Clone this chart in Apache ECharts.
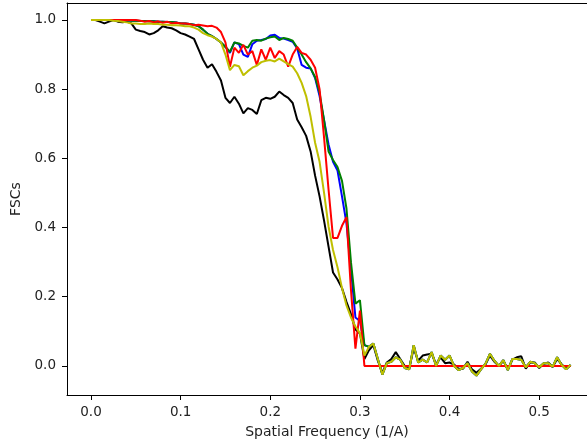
<!DOCTYPE html>
<html>
<head>
<meta charset="utf-8">
<title>FSC</title>
<script src="https://cdn.jsdelivr.net/npm/echarts@6/dist/echarts.min.js"></script>
<style>
	html, body { margin: 0; padding: 0; background: #fff; }
	#main { width: 587px; height: 446px; }
</style>
</head>
<body>
<div id="main"></div>
<script>
	// spatial frequency (1/A)
	var freq = [
		0.000, 0.005, 0.010, 0.015, 0.020, 0.025, 0.030, 0.035, 0.040, 0.045,
		0.050, 0.055, 0.060, 0.065, 0.070, 0.075, 0.080, 0.085, 0.090, 0.095,
		0.100, 0.105, 0.110, 0.115, 0.120, 0.125, 0.130, 0.135, 0.140, 0.145,
		0.150, 0.155, 0.160, 0.165, 0.170, 0.175, 0.180, 0.185, 0.190, 0.195,
		0.200, 0.205, 0.210, 0.215, 0.220, 0.225, 0.230, 0.235, 0.240, 0.245,
		0.250, 0.255, 0.260, 0.265, 0.270, 0.275, 0.280, 0.285, 0.290, 0.295,
		0.300, 0.305, 0.310, 0.315, 0.320, 0.325, 0.330, 0.335, 0.340, 0.345,
		0.350, 0.355, 0.360, 0.365, 0.370, 0.375, 0.380, 0.385, 0.390, 0.395,
		0.400, 0.405, 0.410, 0.415, 0.420, 0.425, 0.430, 0.435, 0.440, 0.445,
		0.450, 0.455, 0.460, 0.465, 0.470, 0.475, 0.480, 0.485, 0.490, 0.495,
		0.500, 0.505, 0.510, 0.515, 0.520, 0.525, 0.530, 0.535
	];

	var fscBlack = [
		1.0, 1.0, 0.995, 0.99, 0.995, 1.0, 0.995, 0.993, 0.995, 0.99,
		0.972, 0.968, 0.965, 0.958, 0.962, 0.97, 0.982, 0.978, 0.976, 0.97,
		0.962, 0.958, 0.952, 0.945, 0.915, 0.885, 0.862, 0.872, 0.85, 0.825,
		0.775, 0.76, 0.778, 0.758, 0.73, 0.745, 0.74, 0.728, 0.768, 0.775,
		0.772, 0.778, 0.793, 0.783, 0.775, 0.76, 0.712, 0.69, 0.665, 0.62,
		0.55, 0.49, 0.42, 0.345, 0.27, 0.25, 0.225, 0.185, 0.15, 0.105,
		0.094, 0.02, 0.045, 0.06, 0.015, -0.02, 0.01, 0.02, 0.04, 0.02,
		0.0, -0.005, 0.05, 0.015, 0.03, 0.033, 0.035, 0.005, 0.025, 0.008,
		0.01, 0.004, -0.008, -0.008, 0.012, -0.01, -0.02, -0.008, 0.004, 0.03,
		0.012, 0.0, 0.015, -0.01, 0.018, 0.025, 0.028, -0.008, 0.01, 0.01,
		-0.006, 0.006, 0.01, -0.003, 0.02, 0.005, -0.008, 0.002
	];

	var fscBlue = [
		1.0, 1.0, 1.0, 1.0, 1.0, 1.0, 1.0, 0.999, 0.999, 0.998,
		0.998, 0.997, 0.997, 0.996, 0.996, 0.995, 0.995, 0.994, 0.994, 0.993,
		0.99, 0.99, 0.988, 0.986, 0.982, 0.972, 0.96, 0.953, 0.945, 0.935,
		0.922, 0.905, 0.935, 0.93, 0.9, 0.893, 0.93, 0.94, 0.942, 0.945,
		0.955, 0.957, 0.948, 0.946, 0.942, 0.937, 0.918, 0.87, 0.862, 0.86,
		0.832, 0.78, 0.71, 0.64, 0.59, 0.565, 0.49, 0.412, 0.28, 0.14,
		0.13, 0.06, 0.055, 0.065, 0.02, -0.025, 0.008, 0.012, 0.025, 0.018,
		-0.006, -0.01, 0.06, 0.01, 0.018, 0.01, 0.04, 0.0, 0.03, 0.018,
		0.03, 0.0, -0.012, -0.006, 0.008, -0.016, -0.028, -0.01, 0.006, 0.035,
		0.015, 0.0, 0.017, -0.012, 0.02, 0.02, 0.018, -0.004, 0.012, 0.008,
		-0.004, 0.008, 0.008, -0.002, 0.025, 0.003, -0.01, 0.003
	];

	var fscGreen = [
		1.0, 1.0, 1.0, 1.0, 1.0, 1.0, 1.0, 0.999, 0.999, 0.998,
		0.998, 0.997, 0.997, 0.996, 0.996, 0.995, 0.995, 0.994, 0.994, 0.993,
		0.99, 0.99, 0.988, 0.986, 0.982, 0.972, 0.96, 0.953, 0.945, 0.935,
		0.922, 0.908, 0.935, 0.932, 0.925, 0.92, 0.94, 0.942, 0.94, 0.946,
		0.95, 0.952, 0.942, 0.948, 0.945, 0.94, 0.92, 0.9, 0.878, 0.86,
		0.835, 0.79, 0.71, 0.62, 0.595, 0.575, 0.535, 0.455, 0.3, 0.18,
		0.19, 0.06, 0.055, 0.065, 0.02, -0.025, 0.008, 0.012, 0.025, 0.018,
		-0.006, -0.01, 0.06, 0.01, 0.018, 0.01, 0.04, 0.0, 0.03, 0.018,
		0.03, 0.0, -0.012, -0.006, 0.008, -0.016, -0.028, -0.01, 0.006, 0.035,
		0.015, 0.0, 0.017, -0.012, 0.02, 0.02, 0.018, -0.004, 0.012, 0.008,
		-0.004, 0.008, 0.008, -0.002, 0.025, 0.003, -0.01, 0.003
	];

	var fscRed = [
		1.0, 1.0, 1.0, 1.0, 1.0, 1.0, 1.0, 1.0, 1.0, 1.0,
		1.0, 0.998, 0.995, 0.997, 0.993, 0.996, 0.992, 0.995, 0.99, 0.992,
		0.99, 0.99, 0.988, 0.985, 0.986, 0.984, 0.982, 0.983, 0.978, 0.965,
		0.935, 0.865, 0.92, 0.905, 0.928, 0.9, 0.91, 0.87, 0.915, 0.885,
		0.92, 0.89, 0.91, 0.9, 0.865, 0.9, 0.922, 0.905, 0.9, 0.885,
		0.862, 0.8, 0.66, 0.51, 0.37, 0.37, 0.405, 0.43, 0.22, 0.05,
		0.16, 0.0, 0.0, 0.0, 0.0, 0.0, 0.0, 0.0, 0.0, 0.0,
		0.0, 0.0, 0.0, 0.0, 0.0, 0.0, 0.0, 0.0, 0.0, 0.0,
		0.0, 0.0, 0.0, 0.0, 0.0, 0.0, 0.0, 0.0, 0.0, 0.0,
		0.0, 0.0, 0.0, 0.0, 0.0, 0.0, 0.0, 0.0, 0.0, 0.0,
		0.0, 0.0, 0.0, 0.0, 0.0, 0.0, 0.0, 0.0
	];

	var fscYellow = [
		1.0, 1.0, 1.0, 1.0, 1.0, 0.998, 0.997, 0.995, 0.993, 0.99,
		0.99, 0.988, 0.988, 0.99, 0.988, 0.988, 0.986, 0.986, 0.985, 0.985,
		0.984, 0.982, 0.982, 0.978, 0.972, 0.962, 0.956, 0.952, 0.945, 0.935,
		0.9, 0.855, 0.87, 0.866, 0.84, 0.852, 0.862, 0.868, 0.878, 0.882,
		0.884, 0.88, 0.888, 0.88, 0.872, 0.865, 0.846, 0.818, 0.78, 0.72,
		0.645, 0.59, 0.5, 0.403, 0.335, 0.285, 0.225, 0.175, 0.14, 0.114,
		0.095, 0.03, 0.055, 0.065, 0.02, -0.025, 0.008, 0.012, 0.025, 0.018,
		-0.006, -0.01, 0.06, 0.01, 0.018, 0.01, 0.04, 0.0, 0.03, 0.018,
		0.03, 0.0, -0.012, -0.006, 0.008, -0.016, -0.028, -0.01, 0.006, 0.035,
		0.015, 0.0, 0.017, -0.012, 0.02, 0.02, 0.018, -0.004, 0.012, 0.008,
		-0.004, 0.008, 0.008, -0.002, 0.025, 0.003, -0.01, 0.003
	];

	var xTicks = [0.0, 0.1, 0.2, 0.3, 0.4, 0.5];
	var yTicks = [0.0, 0.2, 0.4, 0.6, 0.8, 1.0];

	function pairs(vals) {
		var out = [];
		for(var i = 0; i < freq.length; i++) {
			out.push([freq[i], vals[i]]);
		}
		return out;
	}

	function line(name, color, vals) {
		return {
			name: name,
			type: 'line',
			showSymbol: false,
			symbol: 'none',
			lineStyle: { color: color, width: 2 },
			itemStyle: { color: color },
			data: pairs(vals)
		};
	}

	var font = 'DejaVu Sans';
	var xMin = -0.02675;
	var xMax = 0.5533;	// right spine falls just outside the picture
	var chart = echarts.init(document.getElementById('main'));
	var option = {
		animation: false,
		backgroundColor: '#fff',
		grid: {
			left: 67,
			top: 3,
			right: 0,
			bottom: 51,
			containLabel: false
		},
		xAxis: [{
			type: 'value',
			min: xMin,
			max: xMax,
			name: 'Spatial Frequency (1/A)',
			nameLocation: 'middle',
			nameGap: 30,
			nameTextStyle: { fontFamily: font, fontSize: 14, color: '#222' },
			axisLine: { show: true, onZero: false, lineStyle: { color: '#000', width: 1 } },
			axisTick: { show: true, length: 5, lineStyle: { color: '#000' }, customValues: xTicks },
			axisLabel: {
				fontFamily: font, fontSize: 13.5, color: '#222', margin: 10,
				customValues: xTicks,
				formatter: function(v) { return v.toFixed(1); }
			},
			splitLine: { show: false }
		}, {
			// top spine
			type: 'value',
			position: 'top',
			min: xMin,
			max: xMax,
			axisLine: { show: true, onZero: false, lineStyle: { color: '#000', width: 1 } },
			axisTick: { show: false },
			axisLabel: { show: false },
			splitLine: { show: false }
		}],
		yAxis: {
			type: 'value',
			min: -0.084,
			max: 1.049,
			name: 'FSCs',
			nameLocation: 'middle',
			nameGap: 42,
			nameTextStyle: { fontFamily: font, fontSize: 14, color: '#222' },
			axisLine: { show: true, onZero: false, lineStyle: { color: '#000', width: 1 } },
			axisTick: { show: true, length: 5, lineStyle: { color: '#000' }, customValues: yTicks },
			axisLabel: {
				fontFamily: font, fontSize: 13.5, color: '#222', margin: 11,
				customValues: yTicks,
				formatter: function(v) { return v.toFixed(1); }
			},
			splitLine: { show: false }
		},
		series: [
			line('black', '#000000', fscBlack),
			line('blue', '#0000ff', fscBlue),
			line('green', '#008000', fscGreen),
			line('red', '#ff0000', fscRed),
			line('yellow', '#bfbf00', fscYellow)
		]
	};
	chart.setOption(option);
</script>
</body>
</html>
